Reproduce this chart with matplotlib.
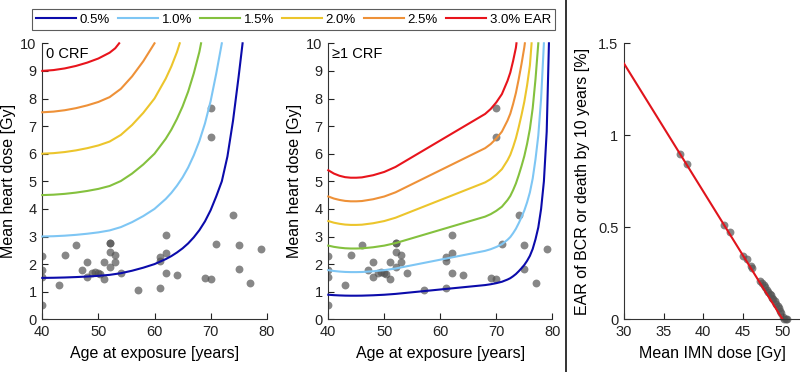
import matplotlib
matplotlib.use("Agg")
import matplotlib.pyplot as plt
from matplotlib.lines import Line2D

plt.rcParams['font.family'] = ['Liberation Sans', 'DejaVu Sans']

# ---------------- data ----------------
levels = ["0.5%", "1.0%", "1.5%", "2.0%", "2.5%", "3.0% EAR"]
colors = ["#0b0bab", "#7ec6f4", "#84c13e", "#ecc52c", "#ee9138", "#e8141c"]

# Panel 1: 0 CRF iso-EAR curves (age, dose)
crf0_age_05 = [40, 42, 44, 46, 48, 50, 52, 54, 56, 58, 60, 62, 63, 64, 65, 66, 67, 68, 69, 70, 71, 72, 73, 74, 75, 75.7]
crf0_dose_05 = [1.5, 1.505, 1.515, 1.53, 1.55, 1.575, 1.61, 1.67, 1.76, 1.87, 2.0, 2.18, 2.29, 2.42, 2.57, 2.75,
                2.97, 3.23, 3.55, 3.95, 4.45, 5.0, 5.9, 7.2, 8.8, 10]
crf0_age_10 = [40, 42, 44, 46, 48, 50, 52, 54, 56, 58, 60, 62, 63, 64, 65, 66, 67, 68, 69, 70, 71, 72]
crf0_dose_10 = [3.0, 3.01, 3.03, 3.06, 3.1, 3.15, 3.22, 3.34, 3.52, 3.74, 4.0, 4.36, 4.58, 4.84, 5.14, 5.5,
                5.94, 6.46, 7.1, 7.9, 8.9, 10]
crf0_age_15 = [40, 42, 44, 46, 48, 50, 52, 54, 56, 58, 60, 62, 63, 64, 65, 66, 67, 68, 68.3]
crf0_dose_15 = [4.5, 4.515, 4.545, 4.59, 4.65, 4.725, 4.83, 5.01, 5.28, 5.61, 6.0, 6.54, 6.87, 7.26, 7.71, 8.25,
                8.91, 9.69, 10]
crf0_age_20 = [40, 42, 44, 46, 48, 50, 52, 54, 56, 58, 60, 62, 63, 64, 64.5]
crf0_dose_20 = [6.0, 6.02, 6.06, 6.12, 6.2, 6.3, 6.44, 6.68, 7.04, 7.48, 8.0, 8.72, 9.16, 9.68, 10]
crf0_age_25 = [40, 42, 44, 46, 48, 50, 52, 54, 56, 58, 60]
crf0_dose_25 = [7.5, 7.525, 7.575, 7.65, 7.75, 7.875, 8.05, 8.35, 8.8, 9.35, 10]
crf0_age_30 = [40, 42, 44, 46, 48, 50, 52, 53, 53.7]
crf0_dose_30 = [9.0, 9.03, 9.09, 9.18, 9.3, 9.45, 9.66, 9.82, 10]

# Panel 2: >=1 CRF iso-EAR curves
crf1_age_05 = [40, 41, 42, 43, 44, 45, 46, 48, 50, 52, 54, 56, 58, 60, 62, 64, 66, 68, 69, 70, 71, 72, 72.5,
               73, 73.5, 74, 74.5, 75, 75.5, 76, 76.5, 77, 77.5, 78, 78.5, 79, 79.4]
crf1_dose_05 = [0.89, 0.875, 0.865, 0.858, 0.855, 0.855, 0.857, 0.87, 0.89, 0.92, 0.96, 1.0, 1.04, 1.08, 1.12,
                1.16, 1.2, 1.24, 1.27, 1.31, 1.36, 1.44, 1.49, 1.56, 1.64, 1.74, 1.85, 1.97, 2.12, 2.3, 2.55,
                2.9, 3.33, 4.0, 5.0, 6.8, 10]
crf1_age_10 = [40, 41, 42, 43, 44, 45, 46, 48, 50, 52, 54, 56, 58, 60, 62, 64, 66, 68, 69, 70, 71, 72, 72.5,
               73, 73.5, 74, 74.5, 75, 75.5, 76, 76.5, 77, 77.5, 78, 78.5]
crf1_dose_10 = [1.78, 1.75, 1.73, 1.716, 1.71, 1.71, 1.714, 1.74, 1.78, 1.84, 1.92, 2.0, 2.08, 2.16, 2.24, 2.32,
                2.4, 2.48, 2.54, 2.62, 2.72, 2.88, 2.98, 3.12, 3.28, 3.48, 3.7, 3.94, 4.24, 4.6, 5.1, 5.8,
                6.66, 8.0, 10]
crf1_age_15 = [40, 41, 42, 43, 44, 45, 46, 48, 50, 52, 54, 56, 58, 60, 62, 64, 66, 68, 69, 70, 71, 72, 72.5,
               73, 73.5, 74, 74.5, 75, 75.5, 76, 76.5, 77, 77.5]
crf1_dose_15 = [2.67, 2.625, 2.595, 2.574, 2.565, 2.565, 2.571, 2.61, 2.67, 2.76, 2.88, 3.0, 3.12, 3.24, 3.36,
                3.48, 3.6, 3.72, 3.81, 3.93, 4.08, 4.32, 4.47, 4.68, 4.92, 5.22, 5.55, 5.91, 6.36, 6.9, 7.65,
                8.7, 10]
crf1_age_20 = [40, 41, 42, 43, 44, 45, 46, 48, 50, 52, 54, 56, 58, 60, 62, 64, 66, 68, 69, 70, 71, 72, 72.5,
               73, 73.5, 74, 74.5, 75, 75.5, 76, 76.3]
crf1_dose_20 = [3.56, 3.5, 3.46, 3.432, 3.42, 3.42, 3.428, 3.48, 3.56, 3.68, 3.84, 4.0, 4.16, 4.32, 4.48, 4.64,
                4.8, 4.96, 5.08, 5.24, 5.44, 5.76, 5.96, 6.24, 6.56, 6.96, 7.4, 7.88, 8.48, 9.2, 10]
crf1_age_25 = [40, 41, 42, 43, 44, 45, 46, 48, 50, 52, 54, 56, 58, 60, 62, 64, 66, 68, 69, 70, 71, 72, 72.5,
               73, 73.5, 74, 74.5, 75, 75.1]
crf1_dose_25 = [4.45, 4.375, 4.325, 4.29, 4.275, 4.275, 4.285, 4.35, 4.45, 4.6, 4.8, 5.0, 5.2, 5.4, 5.6, 5.8,
                6.0, 6.2, 6.35, 6.55, 6.8, 7.2, 7.45, 7.8, 8.2, 8.7, 9.25, 9.85, 10]
crf1_age_30 = [40, 41, 42, 43, 44, 45, 46, 48, 50, 52, 54, 56, 58, 60, 62, 64, 66, 68, 69, 70, 71, 72, 72.5,
               73, 73.5, 73.6]
crf1_dose_30 = [5.4, 5.28, 5.2, 5.15, 5.13, 5.13, 5.142, 5.22, 5.34, 5.52, 5.76, 6.0, 6.24, 6.48, 6.72, 6.96,
                7.2, 7.44, 7.62, 7.86, 8.16, 8.64, 8.94, 9.36, 9.84, 10]

# Patients (same in both panels)
pt_age = [40, 40, 40, 40, 43, 44, 46, 47, 48, 48, 48.8, 49.4, 50, 50.3, 51, 51, 52.1, 52.1, 52.1, 52.1,
          53, 53, 54, 57, 61, 61, 61, 62, 62, 62, 64, 69, 70, 70, 70, 71, 74, 75, 75, 77, 79]
pt_dose = [2.29, 1.79, 1.54, 0.52, 1.24, 2.33, 2.69, 1.79, 2.06, 1.52, 1.67, 1.70, 1.67, 1.63, 1.46, 2.06,
           2.75, 2.75, 2.45, 1.91, 2.33, 2.09, 1.69, 1.06, 2.26, 2.11, 1.12, 3.07, 2.40, 1.66, 1.60, 1.50,
           1.45, 7.64, 6.59, 2.74, 3.79, 2.71, 1.81, 1.32, 2.53]

# Panel 3: EAR of BCR vs mean IMN dose
imn_dose = [37.1, 38.0, 42.6, 43.4, 45.0, 45.5, 46.0, 46.2, 47.1, 47.4, 47.6, 47.8, 48.0, 48.2, 48.4,
            48.5, 48.7, 48.8, 49.0, 49.2, 49.4, 49.5, 49.7, 49.8, 50.0, 50.2, 50.4, 50.6]
imn_ear = [0.90, 0.845, 0.513, 0.473, 0.346, 0.326, 0.29, 0.28, 0.208, 0.196, 0.186, 0.174, 0.16, 0.15,
           0.138, 0.13, 0.118, 0.11, 0.097, 0.085, 0.07, 0.06, 0.045, 0.035, 0.01, 0.0, 0.0, 0.0]
fit_dose = [30, 50]
fit_ear = [1.39, 0.0]

crf0 = [(crf0_age_05, crf0_dose_05), (crf0_age_10, crf0_dose_10), (crf0_age_15, crf0_dose_15),
        (crf0_age_20, crf0_dose_20), (crf0_age_25, crf0_dose_25), (crf0_age_30, crf0_dose_30)]
crf1 = [(crf1_age_05, crf1_dose_05), (crf1_age_10, crf1_dose_10), (crf1_age_15, crf1_dose_15),
        (crf1_age_20, crf1_dose_20), (crf1_age_25, crf1_dose_25), (crf1_age_30, crf1_dose_30)]

# ---------------- figure ----------------
fig = plt.figure(figsize=(8.0, 3.72), dpi=100)
H = 372.0
W = 800.0
def rect(x0, x1, y_top, y_bot):
    return [x0 / W, 1 - y_bot / H, (x1 - x0) / W, (y_bot - y_top) / H]

ax1 = fig.add_axes(rect(42.3, 266.7, 43.3, 319.3))
ax2 = fig.add_axes(rect(328.3, 552.3, 43.3, 319.3))
ax3 = fig.add_axes(rect(624, 800, 43.3, 319.3))

pt_color = (0.33, 0.33, 0.33)
tick_fs = 10.5
lab_fs = 11.5

for ax, curves, tag in [(ax1, crf0, "0 CRF"), (ax2, crf1, "\u22651 CRF")]:
    ax.scatter(pt_age, pt_dose, s=32, color=pt_color, alpha=0.7, linewidths=0, zorder=2)
    for (a, d), c in zip(curves, colors):
        ax.plot(a, d, color=c, lw=1.5, zorder=3, clip_on=False, solid_joinstyle="round")
    ax.set_xlim(40, 80)
    ax.set_ylim(0, 10)
    ax.set_xticks([40, 50, 60, 70, 80])
    ax.set_yticks(range(0, 11))
    ax.set_xlabel("Age at exposure [years]", fontsize=lab_fs, labelpad=5)
    ax.set_ylabel("Mean heart dose [Gy]", fontsize=lab_fs, labelpad=3)
    ax.text(0.015, 0.985, tag, transform=ax.transAxes, fontsize=10.5, va="top", ha="left")

ax3.scatter(imn_dose, imn_ear, s=32, color=pt_color, alpha=0.7, linewidths=0, zorder=2, clip_on=False)
ax3.plot(fit_dose, fit_ear, color="#e0141c", lw=1.5, zorder=3)
ax3.set_xlim(30, 52.2)
ax3.set_ylim(0, 1.5)
ax3.set_xticks([30, 35, 40, 45, 50])
ax3.set_yticks([0, 0.5, 1, 1.5])
ax3.set_yticklabels(["0", "0.5", "1", "1.5"])
ax3.set_xlabel("Mean IMN dose [Gy]", fontsize=lab_fs, labelpad=5)
ax3.set_ylabel("EAR of BCR or death by 10 years [%]", fontsize=lab_fs, labelpad=6)

for ax in (ax1, ax2, ax3):
    for s in ("top", "right"):
        ax.spines[s].set_visible(False)
    for s in ("left", "bottom"):
        ax.spines[s].set_color("#333333")
        ax.spines[s].set_linewidth(0.8)
    ax.tick_params(direction="in", length=4, width=0.8, labelsize=tick_fs, colors="#222222", pad=4)

# legend
handles = [Line2D([0], [0], color=c, lw=1.5) for c in colors]
leg = fig.legend(handles, levels, loc="center", ncol=6, bbox_to_anchor=(293.5 / W, 1 - 19.5 / H),
                 fontsize=9.5, frameon=True, fancybox=False, handlelength=3.0, handletextpad=0.3,
                 columnspacing=0.62, borderpad=0.3, borderaxespad=0, edgecolor="#333333")
leg.get_frame().set_linewidth(0.8)

# separator
fig.add_artist(Line2D([566 / W, 566 / W], [0, 1], color="#111111", lw=1.2))

fig.savefig("out.png", dpi=100)
